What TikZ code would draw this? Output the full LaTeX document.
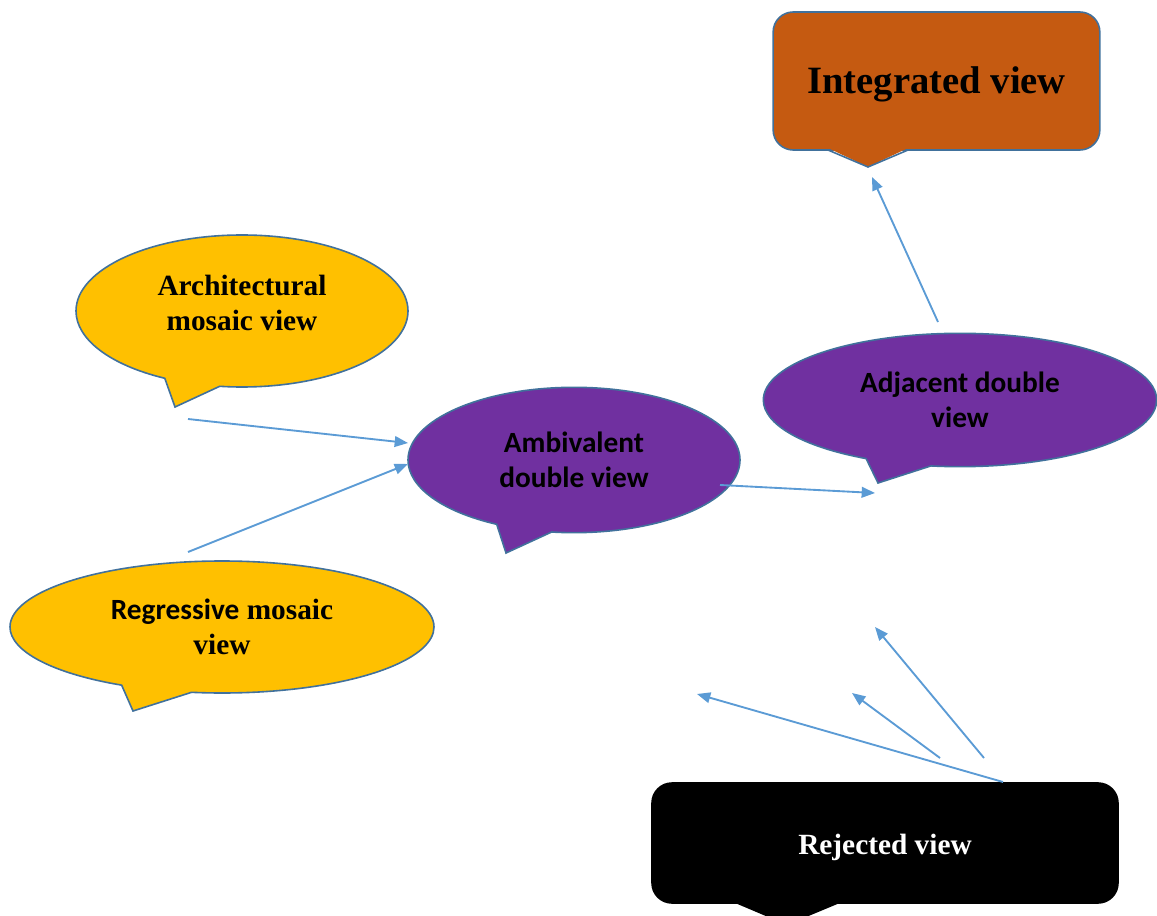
\documentclass[tikz,border=0pt]{standalone}
\usepackage{fontspec}
\setmainfont{Liberation Serif}
\newfontfamily\calibri{Carlito}
\usepackage{xcolor}
\usetikzlibrary{calc, shapes.geometric, shapes.callouts, arrows.meta, positioning}

\definecolor{boxline}{HTML}{41719C}
\definecolor{arrowblue}{HTML}{5B9BD5}
\definecolor{viewyellow}{HTML}{FFC000}
\definecolor{viewpurple}{HTML}{7030A0}
\definecolor{vieworange}{HTML}{C55A11}

\begin{document}
\begin{tikzpicture}[x=0.75pt, y=-0.75pt, >={Triangle[length=10pt, width=8pt]},
    bubble/.style={ellipse callout, draw=boxline, line width=1.2pt, callout pointer arc=20,
        inner sep=0pt, align=center, font=\bfseries\fontsize{22}{26}\selectfont},
    board/.style={rectangle, rounded corners=15pt, line width=1.2pt, inner sep=0pt, align=center},
    link/.style={->, arrowblue, line width=1.4pt}]

    \useasboundingbox (0,0) rectangle (1157,916);

    % =================================================================
    % 1. TOA DO CAC DIEM MUI (POINTER) VA DAU MUI TEN
    % =================================================================
    \coordinate (ArchPtr) at (175,407);
    \coordinate (RegrPtr) at (133,711);
    \coordinate (AmbiPtr) at (506,553);
    \coordinate (AdjaPtr) at (878,483);
    \coordinate (IntegTip) at (868,167);
    \coordinate (RejTip) at (787,925);

    % Diem dau / diem cuoi cac mui ten
    \coordinate (ArchOut) at (188,419);
    \coordinate (RegrOut) at (188,552);
    \coordinate (AmbiInA) at (408,443);
    \coordinate (AmbiInB) at (408,464);
    \coordinate (AmbiOut) at (720,485);
    \coordinate (AdjaIn) at (875,493);
    \coordinate (AdjaOut) at (938,322);
    \coordinate (IntegIn) at (872,177);
    \coordinate (RejOutA) at (1003,782);
    \coordinate (RejOutB) at (940,758);
    \coordinate (RejOutC) at (984,758);
    \coordinate (RejInA) at (697,694);
    \coordinate (RejInB) at (852,693);
    \coordinate (RejInC) at (875,627);

    % =================================================================
    % 2. CAC BONG THOAI HINH ELIP
    % =================================================================
    \node[bubble, fill=viewyellow, minimum width=249pt, minimum height=114pt, text depth=12pt,
        callout absolute pointer={(ArchPtr)}] (arch) at (242,311)
        {Architectural\\mosaic view};
    \node[bubble, fill=viewyellow, minimum width=318pt, minimum height=99pt,
        callout absolute pointer={(RegrPtr)}] (regr) at (222,627)
        {{\calibri Regressive} mosaic\\view};
    \node[bubble, fill=viewpurple, minimum width=249pt, minimum height=109pt,
        callout absolute pointer={(AmbiPtr)}, font=\calibri\bfseries\fontsize{22}{26}\selectfont] (ambi) at (574,460)
        {Ambivalent\\double view};
    \node[bubble, fill=viewpurple, minimum width=295pt, minimum height=100pt,
        callout absolute pointer={(AdjaPtr)}, font=\calibri\bfseries\fontsize{22}{26}\selectfont] (adja) at (960,400)
        {Adjacent double\\view};

    % =================================================================
    % 3. CAC HOP BO GOC CO DUOI
    % =================================================================
    \node[board, draw=boxline, fill=vieworange, minimum width=245pt, minimum height=103.5pt,
        text depth=2pt, font=\bfseries\fontsize{29}{34}\selectfont] (integ) at (936.5,81) {Integrated view};
    \fill[vieworange] (828,148) -- (IntegTip) -- (908,148) -- cycle;
    \draw[boxline, line width=1.2pt] (828,150) -- (IntegTip) -- (908,150);

    \node[board, draw=black, fill=black, text=white, minimum width=349.5pt, minimum height=90pt,
        text height=17pt, text depth=0pt, font=\bfseries\fontsize{22}{26}\selectfont] (rej) at (885,843) {Rejected view};
    \fill[black] (728,900) -- (RejTip) -- (847,900) -- cycle;

    % =================================================================
    % 4. CAC MUI TEN
    % =================================================================
    \draw[link] (ArchOut) -- (AmbiInA);
    \draw[link] (RegrOut) -- (AmbiInB);
    \draw[link] (AmbiOut) -- (AdjaIn);
    \draw[link] (AdjaOut) -- (IntegIn);
    \draw[link] (RejOutA) -- (RejInA);
    \draw[link] (RejOutB) -- (RejInB);
    \draw[link] (RejOutC) -- (RejInC);

\end{tikzpicture}
\end{document}
